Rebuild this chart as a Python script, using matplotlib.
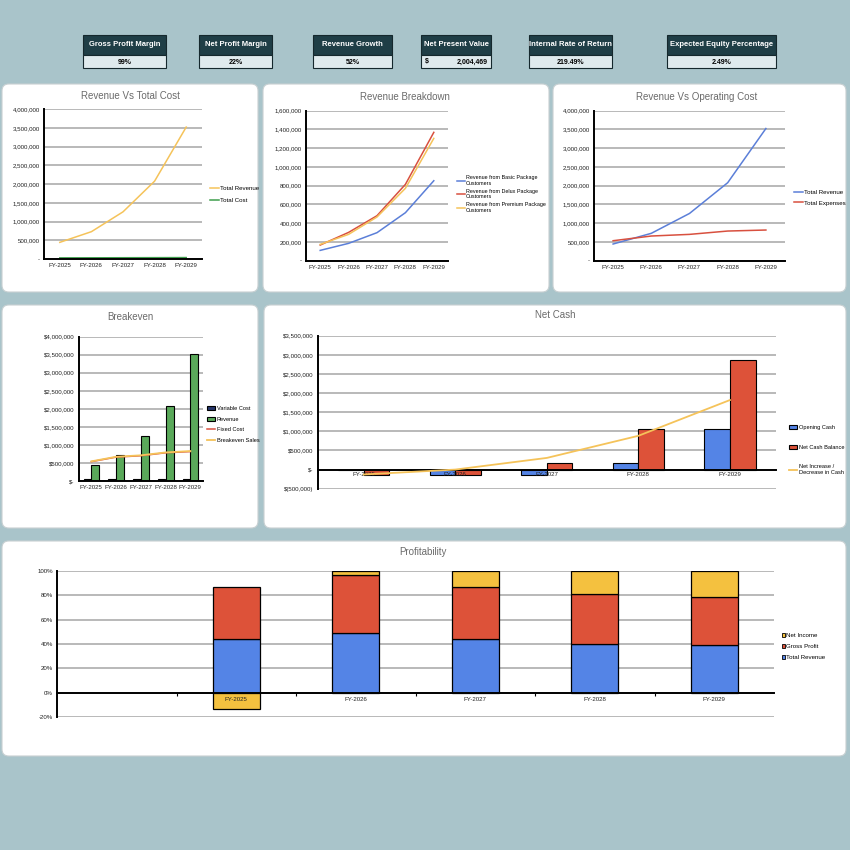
import matplotlib
matplotlib.use("Agg")
import matplotlib.pyplot as plt
from matplotlib.patches import FancyBboxPatch, Rectangle, Patch
from matplotlib.lines import Line2D
from matplotlib import font_manager
import numpy as np

_names = {f.name for f in font_manager.fontManager.ttflist}
_fam = [n for n in ['Liberation Sans Narrow', 'Liberation Sans', 'DejaVu Sans'] if n in _names]
plt.rcParams['font.family'] = _fam

# ---------------- data ----------------
years = ["FY-2025", "FY-2026", "FY-2027", "FY-2028", "FY-2029"]

kpi_titles = ["Gross Profit Margin", "Net Profit Margin", "Revenue Growth",
              "Net Present Value", "Internal Rate of Return", "Expected Equity Percentage"]
kpi_values = ["99%", "22%", "52%", "2,004,469", "219.49%", "2.49%"]

total_revenue = [445000, 730000, 1260000, 2080000, 3525000]
total_cost = [30000, 32000, 34000, 36000, 38000]

rev_basic = [110000, 185000, 299000, 512000, 853000]
rev_delux = [167000, 302000, 480000, 814000, 1369000]
rev_premium = [174000, 281000, 466000, 772000, 1305000]

total_expenses = [533000, 658000, 702000, 791000, 818000]

variable_cost = [45000, 50000, 52000, 55000, 58000]
fixed_cost = [536000, 662000, 700000, 782000, 815000]
breakeven_sales = [545000, 672000, 712000, 792000, 830000]

opening_cash = [0, -138000, -138000, 165000, 1048000]
net_cash_balance = [-138000, -138000, 165000, 1048000, 2866000]
net_change_cash = [-128000, 0, 305000, 883000, 1818000]

prof_categories = [""] + years
prof_total_revenue = [43.8, 48.9, 44.0, 40.2, 38.9]
prof_gross_profit = [43.4, 47.8, 42.7, 40.8, 39.4]
prof_net_income = [-13.3, 3.3, 13.3, 19.0, 21.7]

# ---------------- style ----------------
W = H = 850
BG = '#a9c4ca'
GRID = '#a5a5a5'
C_YEL = '#f5c35a'
C_GRN = '#3f9e4d'
C_BLUE = '#5b7fd8'
C_RED = '#d8503f'
C_BARBLUE = '#5484e6'
C_BARRED = '#dd5239'
C_BARYEL = '#f4c13f'
C_BARGRN = '#5aa95a'
TITLE_C = '#6b6b6b'
TICK_FS = 4.4

fig = plt.figure(figsize=(8.5, 8.5), dpi=100, facecolor=BG)


def fx(x):
    return x / W


def fy(y):
    return 1 - y / H


def panel(x0, y0, x1, y1):
    p = FancyBboxPatch((fx(x0), fy(y1)), fx(x1 - x0), (y1 - y0) / H,
                       boxstyle="round,pad=0,rounding_size=0.008",
                       transform=fig.transFigure, facecolor='white',
                       edgecolor='#c8d0d2', linewidth=0.8, zorder=-10)
    fig.patches.append(p)


def px_axes(x0, y0, x1, y1):
    ax = fig.add_axes([fx(x0), fy(y1), fx(x1 - x0), (y1 - y0) / H])
    ax.set_facecolor('none')
    ax.set_zorder(1)
    return ax


def title(x, y, s):
    fig.text(fx(x), fy(y), s, ha='center', va='center', fontsize=7, color=TITLE_C)


def style(ax, ylim, yticks, fmt, ncat):
    ax.set_ylim(*ylim)
    ax.set_yticks(yticks)
    ax.set_yticklabels([fmt(v) for v in yticks])
    ax.set_xlim(-0.5, ncat - 0.5)
    for v in yticks:
        ax.axhline(v, color=GRID, linewidth=1.1, zorder=0)
    ax.set_axisbelow(False)
    for s in ['top', 'right']:
        ax.spines[s].set_visible(False)
    for s in ['left', 'bottom']:
        ax.spines[s].set_color('black')
        ax.spines[s].set_linewidth(1.4)
    ax.tick_params(axis='both', length=0, labelsize=TICK_FS, colors='#222222', pad=3)


def num_fmt(v):
    return '-' if v == 0 else f'{v:,.0f}'


def dollar_fmt(v):
    if v == 0:
        return '$-'
    if v < 0:
        return f'$({-v:,.0f})'
    return f'${v:,.0f}'


def legend(ax, handles, labels, x, y, spacing=0.8, fs=4.4):
    ax.legend(handles, labels, loc='center left', bbox_to_anchor=(fx(x), fy(y)),
              bbox_transform=fig.transFigure, frameon=False, fontsize=fs,
              handlelength=1.4, handletextpad=0.3, labelspacing=spacing,
              borderaxespad=0, borderpad=0)


x = np.arange(5)

# ---------------- panels ----------------
panel(2, 84, 258, 292)
panel(263, 84, 549, 292)
panel(553, 84, 846, 292)
panel(2, 305, 258, 528)
panel(264, 305, 846, 528)
panel(2, 541, 846, 756)

# ---------------- KPI boxes ----------------
kpi_boxes = [(83, 166), (199, 272), (313, 392), (421, 491), (529, 612), (667, 776)]
for (x0, x1), t, v in zip(kpi_boxes, kpi_titles, kpi_values):
    fig.patches.append(Rectangle((fx(x0), fy(55)), fx(x1 - x0), 20 / H, transform=fig.transFigure,
                                 facecolor='#1f3e46', edgecolor='#15282d', linewidth=0.8))
    fig.patches.append(Rectangle((fx(x0), fy(68)), fx(x1 - x0), 13 / H, transform=fig.transFigure,
                                 facecolor='#dfeaed', edgecolor='#15282d', linewidth=0.8))
    fig.text(fx((x0 + x1) / 2), fy(45), t, ha='center', va='center', fontsize=5.5,
             color='white', fontweight='bold')
    if t == "Net Present Value":
        fig.text(fx(x0 + 4), fy(62), '$', ha='left', va='center', fontsize=5.0, fontweight='bold')
        fig.text(fx(x1 - 3), fy(62), v, ha='right', va='center', fontsize=5.0, fontweight='bold')
    else:
        fig.text(fx((x0 + x1) / 2), fy(62), v, ha='center', va='center', fontsize=5.0,
                 fontweight='bold')

# ---------------- A: Revenue Vs Total Cost ----------------
title(130, 96, "Revenue Vs Total Cost")
axA = px_axes(44, 109.3, 202, 259)
style(axA, (0, 4000000), np.arange(0, 4000001, 500000), num_fmt, 5)
axA.set_xticks(x)
axA.set_xticklabels(years)
lA1, = axA.plot(x, total_revenue, color=C_YEL, lw=1.1)
lA2, = axA.plot(x, total_cost, color=C_GRN, lw=1.1)
legend(axA, [lA1, lA2], ["Total Revenue", "Total Cost"], 210, 194.5, spacing=1.1)

# ---------------- B: Revenue Breakdown ----------------
title(405, 97, "Revenue Breakdown")
axB = px_axes(306, 110.7, 448, 260.7)
style(axB, (0, 1600000), np.arange(0, 1600001, 200000), num_fmt, 5)
axB.set_xticks(x)
axB.set_xticklabels(years)
lB1, = axB.plot(x, rev_basic, color=C_BLUE, lw=1.1)
lB2, = axB.plot(x, rev_delux, color=C_RED, lw=1.1)
lB3, = axB.plot(x, rev_premium, color=C_YEL, lw=1.1)
legend(axB, [lB1, lB2, lB3],
       ["Revenue from Basic Package\nCustomers", "Revenue from Delux Package\nCustomers",
        "Revenue from Premium Package\nCustomers"], 457, 194, spacing=0.5, fs=3.9)

# ---------------- C: Revenue Vs Operating Cost ----------------
title(697, 97, "Revenue Vs Operating Cost")
axC = px_axes(594, 110.7, 785, 260.7)
style(axC, (0, 4000000), np.arange(0, 4000001, 500000), num_fmt, 5)
axC.set_xticks(x)
axC.set_xticklabels(years)
lC1, = axC.plot(x, total_revenue, color=C_BLUE, lw=1.1)
lC2, = axC.plot(x, total_expenses, color=C_RED, lw=1.1)
legend(axC, [lC1, lC2], ["Total Revenue", "Total Expenses"], 794, 197.5, spacing=0.9)

# ---------------- D: Breakeven ----------------
title(130, 317, "Breakeven")
axD = px_axes(79, 336.7, 202.7, 481)
style(axD, (0, 4000000), np.arange(0, 4000001, 500000), dollar_fmt, 5)
axD.set_xticks(x)
axD.set_xticklabels(years)
axD.bar(x - 0.16, variable_cost, width=0.3, color='#27366b', edgecolor='black', lw=0.8, zorder=2)
axD.bar(x + 0.16, total_revenue, width=0.32, color=C_BARGRN, edgecolor='black', lw=0.8, zorder=2)
axD.plot(x, fixed_cost, color=C_RED, lw=1.1, zorder=3)
axD.plot(x, breakeven_sales, color=C_YEL, lw=1.3, zorder=3)
hD = [Patch(facecolor='#27366b', edgecolor='black', lw=0.8),
      Patch(facecolor=C_BARGRN, edgecolor='black', lw=0.8),
      Line2D([], [], color=C_RED, lw=1.1), Line2D([], [], color=C_YEL, lw=1.3)]
legend(axD, hD, ["Variable Cost", "Revenue", "Fixed Cost", "Breakeven Sales"], 207, 424.5,
       spacing=1.0, fs=4.1)

# ---------------- E: Net Cash ----------------
title(555, 315, "Net Cash")
axE = px_axes(318, 335.7, 775.7, 488.7)
style(axE, (-500000, 3500000), np.arange(-500000, 3500001, 500000), dollar_fmt, 5)
axE.spines['bottom'].set_position(('data', 0))
axE.set_xticks(x)
axE.set_xticklabels(years)
axE.tick_params(axis='x', pad=2)
axE.bar(x - 0.14, opening_cash, width=0.28, color=C_BARBLUE, edgecolor='black', lw=0.8, zorder=1)
axE.bar(x + 0.14, net_cash_balance, width=0.28, color=C_BARRED, edgecolor='black', lw=0.8, zorder=1)
axE.plot(x, net_change_cash, color=C_YEL, lw=1.3, zorder=3)
hE = [Patch(facecolor=C_BARBLUE, edgecolor='black', lw=0.8),
      Patch(facecolor=C_BARRED, edgecolor='black', lw=0.8),
      Line2D([], [], color=C_YEL, lw=1.3)]
legend(axE, hE, ["Opening Cash", "Net Cash Balance", "Net Increase /\nDecrease in Cash"], 789, 450,
       spacing=2.6, fs=4.1)

# ---------------- F: Profitability ----------------
title(423, 552, "Profitability")
axF = px_axes(57, 571, 774, 717)
style(axF, (-20, 100), np.arange(-20, 101, 20), lambda v: f'{v:.0f}%', 6)
axF.spines['bottom'].set_position(('data', 0))
xf = np.arange(1, 6)
axF.set_xticks(np.arange(6))
axF.set_xticklabels(prof_categories)
axF.set_xticks(np.arange(0.5, 5.5, 1), minor=True)
axF.tick_params(axis='x', which='minor', length=2.5, width=0.8, direction='out')
tr = np.array(prof_total_revenue)
gp = np.array(prof_gross_profit)
ni = np.array(prof_net_income)
bw = 0.39
axF.bar(xf, tr, width=bw, color=C_BARBLUE, edgecolor='black', lw=0.9, zorder=1)
axF.bar(xf, gp, bottom=tr, width=bw, color=C_BARRED, edgecolor='black', lw=0.9, zorder=1)
ni_bottom = np.where(ni >= 0, tr + gp, 0)
axF.bar(xf, ni, bottom=ni_bottom, width=bw, color=C_BARYEL, edgecolor='black', lw=0.9, zorder=1)
hF = [Patch(facecolor=C_BARYEL, edgecolor='black', lw=0.6),
      Patch(facecolor=C_BARRED, edgecolor='black', lw=0.6),
      Patch(facecolor=C_BARBLUE, edgecolor='black', lw=0.6)]
axF.legend(hF, ["Net Income", "Gross Profit", "Total Revenue"], loc='center left',
           bbox_to_anchor=(fx(782), fy(646.5)), bbox_transform=fig.transFigure, frameon=False,
           fontsize=4.4, handlelength=0.45, handleheight=0.8, handletextpad=0.2,
           labelspacing=0.9, borderaxespad=0, borderpad=0)

fig.savefig("out.png", dpi=100, facecolor=BG)
